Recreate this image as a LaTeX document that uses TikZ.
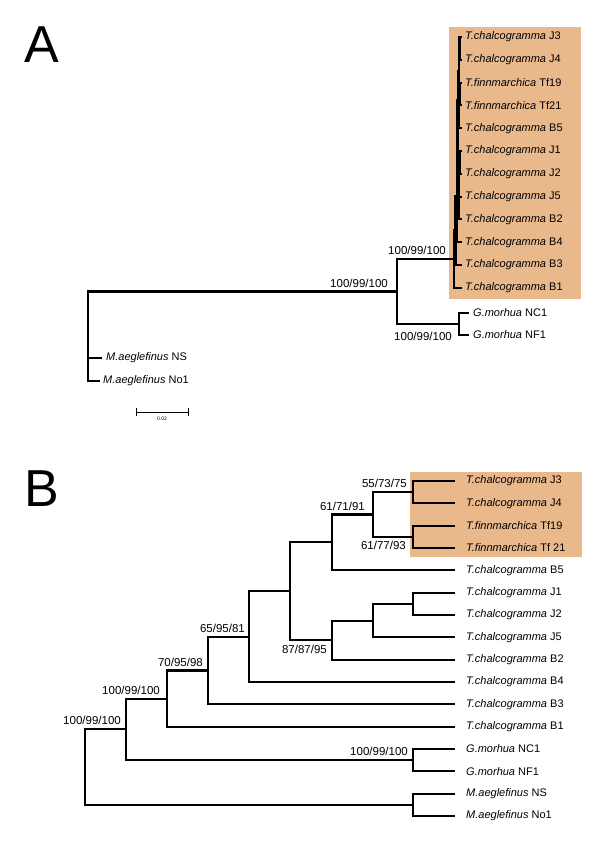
\documentclass[tikz,border=0pt]{standalone}
\usepackage{fontspec}
\setmainfont{Liberation Sans}
\usetikzlibrary{positioning}
\definecolor{cladefill}{RGB}{233,185,140}

\begin{document}
\begin{tikzpicture}[x=1pt,y=-1pt,
  branch/.style={line width=2.1pt},
  taxon/.style={inner sep=0pt,font=\fontsize{11}{13}\selectfont},
  boot/.style={inner sep=0pt,anchor=base east,font=\fontsize{11.5}{13}\selectfont},
  panel/.style={inner sep=0pt,anchor=base west,font=\fontsize{52}{52}\selectfont}]
\useasboundingbox (0,0) rectangle (600,844);

% panel A
\node[panel] (pA) at (24,62) {A};
\fill[cladefill] (449,27) rectangle (581,299);
\foreach \n/\y in {J3/37,J4/59.8,Tf19/82.6,Tf21/105.4,B5/128.2,J1/151,J2/173.8,J5/196.6,B2/219.4,B4/242.2,B3/265,B1/287.8}
  \coordinate (a\n) at (462,\y);
\foreach \n/\g/\s in {J3/T.chalcogramma/J3,J4/T.chalcogramma/J4,Tf19/T.finnmarchica/Tf19,Tf21/T.finnmarchica/Tf21,
  B5/T.chalcogramma/B5,J1/T.chalcogramma/J1,J2/T.chalcogramma/J2,J5/T.chalcogramma/J5,
  B2/T.chalcogramma/B2,B4/T.chalcogramma/B4,B3/T.chalcogramma/B3,B1/T.chalcogramma/B1}
  \node[taxon,right=3pt of a\n] (la\n) {\textit{\g} \s};
\coordinate (aNC1) at (469,313); \coordinate (aNF1) at (469,335);
\coordinate (aNS) at (102,358); \coordinate (aNo1) at (100,381);
\node[taxon,right=4pt of aNC1] (laNC1) {\textit{G.morhua} NC1};
\node[taxon,right=4pt of aNF1] (laNF1) {\textit{G.morhua} NF1};
\node[taxon,right=4pt of aNS] (laNS) {\textit{M.aeglefinus} NS};
\node[taxon,right=3pt of aNo1] (laNo1) {\textit{M.aeglefinus} No1};
\coordinate (a1) at (459.5,48.4); \coordinate (a2) at (459.5,94);
\coordinate (a3) at (459,71.2); \coordinate (a4) at (458.5,99.7);
\coordinate (a5) at (460,162.4); \coordinate (a6) at (459,179.5);
\coordinate (a7) at (458.5,199.5); \coordinate (a8) at (457.5,149.6);
\coordinate (a9) at (457,195.9); \coordinate (a10) at (455.5,230.5);
\coordinate (a11) at (454,259.1); \coordinate (aG) at (459,324);
\coordinate (aI) at (397,291.5); \coordinate (aR) at (88,336);
\foreach \p/\c in {a1/aJ3,a1/aJ4,a2/aTf19,a2/aTf21,a3/a1,a3/a2,a4/a3,a4/aB5,a5/aJ1,a5/aJ2,a6/a5,a6/aJ5,
  a7/a6,a7/aB2,a8/a4,a8/a7,a9/a8,a9/aB4,a10/a9,a10/aB3,a11/a10,a11/aB1,
  aG/aNC1,aG/aNF1,aI/a11,aI/aG,aR/aI,aR/aNS,aR/aNo1}
  \draw[branch] (\p) |- (\c);
\node[boot,xshift=-8pt,yshift=4.5pt] (bsa11) at (a11) {100/99/100};
\node[boot,xshift=-9pt,yshift=4.5pt] (bsaI) at (aI) {100/99/100};
\node[boot,xshift=-7pt,yshift=-16pt] (bsaG) at (aG) {100/99/100};
% scale bar
\coordinate (sb1) at (136,412); \coordinate (sb2) at (188,412); \coordinate (sbm) at (162,412);
\draw[line width=0.9pt] (sb1) -- (sb2);
\draw[line width=0.9pt] ([yshift=4pt]sb1) -- ([yshift=-4pt]sb1);
\draw[line width=0.9pt] ([yshift=4pt]sb2) -- ([yshift=-4pt]sb2);
\node[inner sep=0pt,font=\fontsize{5}{6}\selectfont,below=5pt of sbm] (sbl) {0.02};

% panel B
\node[panel] (pB) at (24,506) {B};
\fill[cladefill] (410,472) rectangle (582,557);
\foreach \n/\y in {J3/481,J4/503.3,Tf19/525.7,Tf21/548,B5/570.3,J1/592.7,J2/615,J5/637.3,B2/659.7,B4/682,B3/704.3,B1/726.7,NC1/749,NF1/771.3,NS/793.7,No1/816}
  \coordinate (b\n) at (455,\y);
\foreach \n/\g/\s in {J3/T.chalcogramma/J3,J4/T.chalcogramma/J4,Tf19/T.finnmarchica/Tf19,Tf21/T.finnmarchica/Tf 21,
  B5/T.chalcogramma/B5,J1/T.chalcogramma/J1,J2/T.chalcogramma/J2,J5/T.chalcogramma/J5,
  B2/T.chalcogramma/B2,B4/T.chalcogramma/B4,B3/T.chalcogramma/B3,B1/T.chalcogramma/B1,
  NC1/G.morhua/NC1,NF1/G.morhua/NF1,NS/M.aeglefinus/NS,No1/M.aeglefinus/No1}
  \node[taxon,right=11pt of b\n] (lb\n) {\textit{\g} \s};
\coordinate (b1) at (413,492.2); \coordinate (b2) at (413,536.8);
\coordinate (b3) at (373,514.5); \coordinate (b4) at (332,542.4);
\coordinate (b5) at (413,603.8); \coordinate (b6) at (373,620.6);
\coordinate (b7) at (332,640.1); \coordinate (b8) at (290,591.3);
\coordinate (b9) at (249,636.7); \coordinate (b10) at (208,670.5);
\coordinate (b11) at (167,698.6); \coordinate (b12) at (413,760.2);
\coordinate (b13) at (126,729.4); \coordinate (b14) at (413,804.8);
\coordinate (b15) at (85,767.1);
\foreach \p/\c in {b1/bJ3,b1/bJ4,b2/bTf19,b2/bTf21,b3/b1,b3/b2,b4/b3,b4/bB5,b5/bJ1,b5/bJ2,b6/b5,b6/bJ5,
  b7/b6,b7/bB2,b8/b4,b8/b7,b9/b8,b9/bB4,b10/b9,b10/bB3,b11/b10,b11/bB1,
  b12/bNC1,b12/bNF1,b13/b11,b13/b12,b14/bNS,b14/bNo1,b15/b13,b15/b14}
  \draw[branch] (\p) |- (\c);
\node[boot,xshift=-6pt,yshift=4.5pt] (bsb1) at (b1) {55/73/75};
\node[boot,xshift=-7pt,yshift=-13pt] (bsb2) at (b2) {61/77/93};
\node[boot,xshift=-8pt,yshift=4.5pt] (bsb3) at (b3) {61/71/91};
\node[boot,xshift=-5pt,yshift=-13.5pt] (bsb7) at (b7) {87/87/95};
\node[boot,xshift=-4pt,yshift=4.5pt] (bsb9) at (b9) {65/95/81};
\node[boot,xshift=-5pt,yshift=4.5pt] (bsb10) at (b10) {70/95/98};
\node[boot,xshift=-7pt,yshift=4.5pt] (bsb11) at (b11) {100/99/100};
\node[boot,xshift=-5pt,yshift=4.5pt] (bsb13) at (b13) {100/99/100};
\node[boot,xshift=-5pt,yshift=4.5pt] (bsb12) at (b12) {100/99/100};
\end{tikzpicture}
\end{document}
